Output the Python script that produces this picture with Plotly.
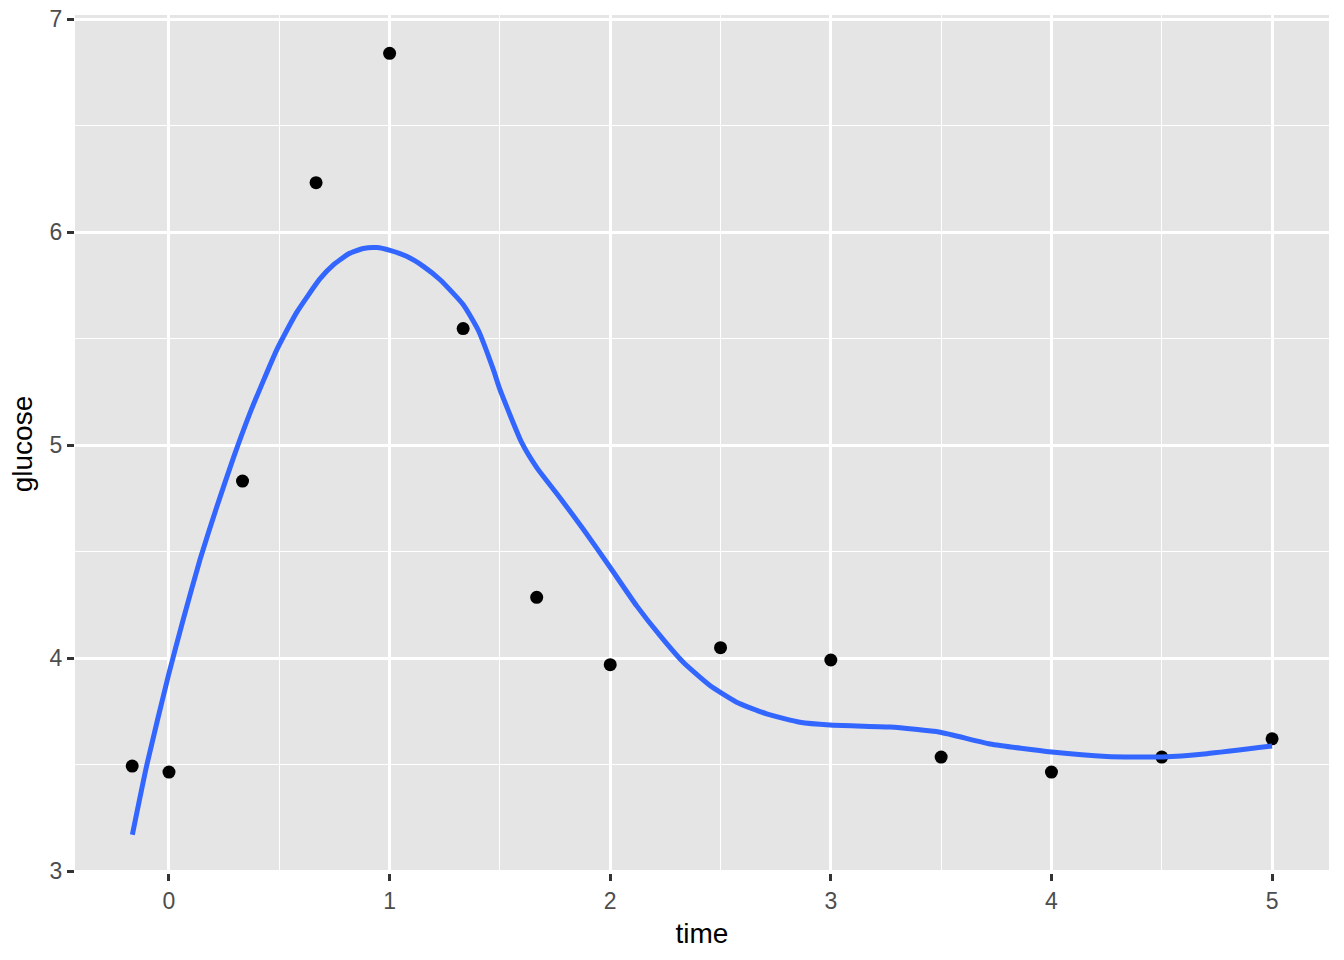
import plotly.graph_objects as go

# observed glucose readings
time = [-0.1667, 0, 0.3333, 0.6667, 1, 1.3333, 1.6667, 2, 2.5, 3, 3.5, 4, 4.5, 5]
glucose = [3.494, 3.466, 4.832, 6.233, 6.840, 5.548, 4.286, 3.970, 4.050, 3.992,
           3.536, 3.466, 3.536, 3.622]

# loess fit
smooth_time = [-0.166, -0.101, -0.003, 0.065, 0.141, 0.216, 0.292, 0.367, 0.488, 0.579,
               0.684, 0.745, 0.813, 0.881, 0.941, 1.002, 1.077, 1.153, 1.229, 1.334,
               1.402, 1.470, 1.500, 1.599, 1.667, 1.772, 1.878, 2.0, 2.12, 2.226,
               2.331, 2.452, 2.573, 2.709, 2.860, 2.996, 3.268, 3.495, 3.722, 4.001,
               4.251, 4.503, 4.704, 5.0]
smooth_glucose = [3.172, 3.497, 3.918, 4.184, 4.465, 4.709, 4.941, 5.151, 5.447, 5.624,
                  5.781, 5.847, 5.898, 5.924, 5.928, 5.915, 5.887, 5.840, 5.777, 5.660,
                  5.540, 5.356, 5.262, 5.012, 4.895, 4.754, 4.606, 4.426, 4.246, 4.106,
                  3.981, 3.872, 3.794, 3.739, 3.700, 3.687, 3.677, 3.653, 3.598, 3.560,
                  3.539, 3.537, 3.552, 3.588]

x_ticks = [0, 1, 2, 3, 4, 5]
y_ticks = [3, 4, 5, 6, 7]

FONT = "Liberation Sans, Arial, Helvetica, sans-serif"

fig = go.Figure()
fig.add_trace(go.Scatter(
    x=time, y=glucose, mode="markers",
    marker=dict(color="black", size=13),
))
fig.add_trace(go.Scatter(
    x=smooth_time, y=smooth_glucose, mode="lines",
    line=dict(color="#3366FF", width=5, shape="spline", smoothing=0.5),
))

axis_common = dict(
    showgrid=True, gridcolor="white", gridwidth=2.8,
    zeroline=False, showline=False, automargin=False,
    ticks="outside", ticklen=7, tickwidth=2.8, tickcolor="#333333",
    tickfont=dict(family=FONT, size=23, color="#4D4D4D"),
    title_font=dict(family=FONT, size=28, color="black"),
)

fig.update_xaxes(
    range=[-0.426, 5.258], tickvals=x_ticks, title_text="time", title_standoff=10,
    minor=dict(dtick=0.5, tick0=0, showgrid=True, gridcolor="white", gridwidth=1.4,
               ticklen=0),
    **axis_common,
)
fig.update_yaxes(
    range=[2.992, 7.02], tickvals=y_ticks, title_text="glucose", title_standoff=8,
    minor=dict(dtick=0.5, tick0=0, showgrid=True, gridcolor="white", gridwidth=1.4,
               ticklen=0),
    **axis_common,
)

fig.update_layout(
    width=1344, height=960,
    margin=dict(l=75, r=15, t=15, b=87),
    plot_bgcolor="#E5E5E5", paper_bgcolor="white",
    showlegend=False,
    font=dict(family=FONT),
)

# drop the default page margin so the figure sits at the window corner
fig.write_html("out.html", config={"displayModeBar": False},
               post_script="document.body.style.margin='0';")
